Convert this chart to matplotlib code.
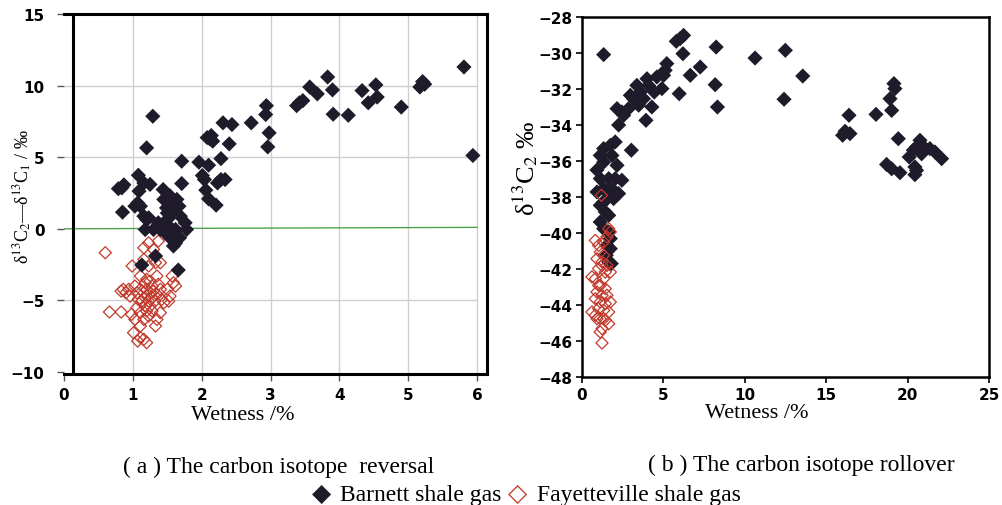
'''
plot.py

carbon isotope reversal / rollover, Barnett vs Fayetteville shale gas
'''

import matplotlib as mpl
mpl.use('Agg')
import matplotlib.pyplot as plt
import numpy as np

mpl.rcParams['font.family']      = 'serif'
mpl.rcParams['font.serif']       = ['Liberation Serif', 'DejaVu Serif']
mpl.rcParams['mathtext.fontset'] = 'stix'

# ---------------------------------------------------------------------------- #
# (a) wetness vs delta13C2 - delta13C1

barnett_a_x = [0.84, 0.87, 0.79, 0.85, 1.03, 1.07, 1.08, 1.09, 1.11, 1.16,
               1.20, 1.29, 1.25, 1.16, 1.20, 1.18, 1.23, 1.30, 1.37, 1.44,
               1.45, 1.47, 1.52, 1.54, 1.57, 1.59, 1.50, 1.54, 1.59, 1.62,
               1.67, 1.69, 1.68, 1.76, 1.78, 1.71, 1.71, 1.66, 1.33, 1.13,
               1.96, 2.01, 2.04, 2.06, 2.10, 2.21, 2.10, 2.08, 2.14, 2.16,
               2.12, 2.23, 2.28, 2.34, 2.28, 2.31, 2.44, 2.40, 2.72, 2.94,
               2.93, 2.98, 2.96, 3.38, 3.42, 3.47, 3.57, 3.68, 3.83, 3.90,
               3.91, 4.13, 4.33, 4.42, 4.53, 4.55, 4.90, 5.17, 5.21, 5.24,
               5.81, 5.94, 1.40, 1.50, 1.52, 1.57, 1.62, 1.64, 1.49]
barnett_a_y = [2.86, 3.07, 2.80, 1.16, 1.58, 1.80, 3.74, 2.63, 1.58, 3.20,
               5.65, 7.86, 3.10, 0.88, 0.65, -0.05, 0.77, -0.05, 0.42, 2.74,
               2.05, -0.28, 1.80, 2.30, 1.58, 1.10, 0.65, -0.63, -1.20, -0.05,
               1.58, 0.88, -0.63, 0.42, -0.05, 4.72, 3.16, -2.88, -1.90, -2.53,
               4.65, 3.72, 3.44, 2.70, 2.09, 1.65, 4.44, 6.37, 6.51, 6.12,
               6.28, 3.20, 3.44, 3.44, 4.90, 7.40, 7.28, 5.93, 7.40, 8.60,
               7.98, 6.70, 5.72, 8.60, 8.80, 8.95, 9.90, 9.42, 10.60, 9.70,
               8.00, 7.93, 9.65, 8.80, 10.05, 9.20, 8.50, 9.90, 10.28, 10.10,
               11.30, 5.12, -0.05, 1.10, 0.20, -0.30, -1.00, 2.05, 1.46]

fayette_a_x = [0.60, 0.66, 0.83, 0.83, 0.86, 0.90, 0.94, 0.96, 0.99, 0.98,
               1.01, 1.03, 1.07, 1.11, 1.16, 1.20, 1.16, 1.23, 1.30, 1.37,
               1.33, 1.40, 1.16, 1.23, 1.11, 1.20, 1.35, 1.37, 1.57, 1.59,
               1.62, 1.50, 1.54, 1.45, 1.52, 1.40, 1.35, 1.33, 1.28, 1.23,
               1.16, 1.11, 1.11, 1.16, 1.20, 1.25, 1.30, 1.18, 1.23, 1.28,
               1.13, 1.08, 1.18, 1.25, 1.32, 1.35, 1.06, 1.11, 1.20, 1.28,
               1.18, 1.25, 1.03, 1.06, 1.40, 1.42]
fayette_a_y = [-1.67, -5.81, -5.81, -4.35, -4.23, -4.47, -4.23, -4.70, -2.60, -5.98,
               -7.26, -6.33, -7.84, -7.60, -7.72, -7.95, -1.33, -0.98, -1.44, -0.86,
               -2.37, -2.37, -2.14, -2.60, -3.30, -3.53, -3.30, -3.88, -3.30, -3.77,
               -4.00, -4.23, -4.70, -5.16, -5.05, -5.86, -6.33, -6.79, -5.74, -6.09,
               -6.33, -6.79, -4.23, -4.47, -4.23, -4.47, -4.35, -4.81, -5.05, -4.81,
               -5.05, -4.93, -5.40, -5.40, -5.05, -4.58, -5.50, -5.86, -5.74, -4.00,
               -3.77, -3.65, -4.00, -4.47, -4.23, -4.93]

# ---------------------------------------------------------------------------- #
# (b) wetness vs delta13C2

barnett_b_x = [1.33, 5.79, 6.03, 6.24, 6.20, 5.97, 6.65, 7.26, 8.24, 8.18,
               8.32, 10.63, 12.49, 12.41, 13.56, 16.01, 16.16, 16.46, 16.40, 18.06,
               19.16, 19.22, 18.92, 19.02, 19.43, 18.71, 19.02, 19.53, 20.10, 20.35,
               20.76, 20.55, 20.86, 21.37, 21.68, 22.09, 20.45, 20.45, 20.55, 20.90,
               5.21, 5.11, 5.01, 4.91, 4.60, 4.44, 4.29, 3.99, 4.09, 3.78,
               3.58, 3.37, 3.48, 3.17, 3.93, 2.97, 2.86, 2.45, 2.15, 2.56,
               2.25, 3.03, 2.04, 1.74, 1.33, 1.12, 0.92, 1.33, 1.84, 2.15,
               2.45, 2.04, 1.64, 1.12, 0.92, 1.33, 1.74, 2.04, 2.25, 1.33,
               1.53, 1.94, 1.12, 1.43, 1.64, 1.12, 1.33, 1.64, 1.74, 1.53,
               1.74, 1.64, 1.80, 1.49]
barnett_b_y = [-30.09, -29.35, -29.20, -29.02, -30.04, -32.26, -31.24, -30.78, -29.67, -31.76,
               -33.00, -30.28, -29.85, -32.57, -31.28, -34.57, -34.35, -34.48, -33.46, -33.41,
               -31.70, -31.98, -32.54, -33.19, -34.76, -36.19, -36.43, -36.65, -35.78, -35.40,
               -34.85, -35.22, -35.60, -35.31, -35.50, -35.87, -36.33, -36.76, -36.52, -35.13,
               -30.59, -30.96, -31.24, -31.98, -31.33, -32.17, -33.00, -31.43, -31.80, -32.54,
               -32.17, -31.80, -32.90, -32.54, -33.74, -32.35, -33.09, -33.28, -33.09, -33.46,
               -34.00, -35.40, -34.94, -35.13, -35.31, -35.69, -36.50, -36.06, -35.69, -36.24,
               -37.07, -36.98, -36.98, -36.98, -37.72, -37.54, -37.54, -37.72, -37.81, -38.28,
               -38.09, -38.09, -38.46, -38.83, -39.02, -39.39, -39.76, -39.94, -40.31, -40.69,
               -40.87, -41.61, -41.70, -41.24]

fayette_b_x = [1.19, 0.61, 0.61, 0.82, 1.02, 1.64, 1.74, 1.53, 1.33, 1.12,
               0.92, 1.23, 1.53, 1.74, 1.02, 0.82, 1.33, 1.12, 1.43, 0.92,
               1.23, 1.53, 0.82, 1.12, 1.43, 1.74, 1.02, 1.33, 1.64, 0.82,
               1.12, 1.43, 1.64, 1.23, 1.12, 1.23, 1.33, 0.92, 1.02, 1.33,
               1.43, 1.23]
fayette_b_y = [-37.91, -42.44, -44.39, -40.41, -40.69, -39.76, -39.94, -40.22, -40.50, -41.06,
               -41.43, -41.61, -41.80, -42.17, -41.98, -42.54, -42.54, -42.91, -43.09, -43.28,
               -43.46, -43.46, -43.65, -43.83, -43.93, -43.83, -44.20, -44.30, -44.39, -44.57,
               -44.76, -44.85, -45.04, -45.31, -45.50, -46.11, -44.76, -44.76, -42.91, -41.24,
               -42.17, -41.80]

# ---------------------------------------------------------------------------- #

black = '#1f1b2b'
red = '#c23a2c'
grid_color = '#cfcfcf'
tick_font = dict(family=['Liberation Sans Narrow', 'DejaVu Sans'],
                 weight='bold', size=11)

W, H = 1002., 506.
fig = plt.figure(figsize=(W/100, H/100), dpi=100)

def px_axes(x0, x1, y0, y1):
    return fig.add_axes([x0/W, 1 - y1/H, (x1 - x0)/W, (y1 - y0)/H])

# --- panel (a)
ax1 = px_axes(64, 487, 15, 375)
ax1.set_xlim(0, 6.145)
ax1.set_ylim(-10.14, 15)
for x in range(1, 7):
    ax1.axvline(x, color=grid_color, lw=1, zorder=0)
for y in (-5, 5, 10):
    ax1.hlines(y, 0, 6, color=grid_color, lw=1, zorder=0)
ax1.plot([0, 6], [0, 0.1], color='#4fa34a', lw=1, zorder=1)
ax1.axvline(0.13, color='black', lw=2.2, zorder=5)
ax1.spines['left'].set_visible(False)
for s in ('top', 'right', 'bottom'):
    ax1.spines[s].set_linewidth(2.2)
ax1.scatter(fayette_a_x, fayette_a_y, marker='D', s=38, facecolors='none',
            edgecolors=red, linewidths=0.9, zorder=3)
ax1.scatter(barnett_a_x, barnett_a_y, marker='D', s=60, color=black,
            edgecolors='none', zorder=4)
ax1.set_xticks(range(0, 7))
ax1.set_yticks(range(-10, 16, 5))
ax1.tick_params(direction='out', length=5, width=1, color='#555555')
ax1.tick_params(axis='x', pad=4)
ax1.tick_params(axis='y', pad=9)
for lab in ax1.get_xticklabels() + ax1.get_yticklabels():
    lab.set(**tick_font)

# --- panel (b)
ax2 = px_axes(582, 989, 18, 378)
ax2.set_xlim(0, 25)
ax2.set_ylim(-48, -28)
for s in ax2.spines.values():
    s.set_linewidth(1.8)
ax2.scatter(barnett_b_x, barnett_b_y, marker='D', s=60, color=black,
            edgecolors='none', zorder=3)
ax2.scatter(fayette_b_x, fayette_b_y, marker='D', s=38, facecolors='none',
            edgecolors=red, linewidths=0.9, zorder=4)
ax2.set_xticks(range(0, 26, 5))
ax2.set_yticks(range(-48, -27, 2))
ax2.tick_params(direction='out', length=4, width=1.2, pad=3)
for lab in ax2.get_xticklabels() + ax2.get_yticklabels():
    lab.set(**tick_font)

# --- labels
fig.text(23/W, 1 - 197/H, 'δ$^{13}$C$_2$—δ$^{13}$C$_1$ / ‰',
         rotation=90, ha='center', va='center', fontsize=13)
fig.text(525/W, 1 - 168/H, 'δ$^{13}$C$_2$ ‰',
         rotation=90, ha='center', va='center', fontsize=19)
fig.text(243/W, 1 - 416/H, 'Wetness /%', ha='center', va='center', fontsize=16)
fig.text(757/W, 1 - 414/H, 'Wetness /%', ha='center', va='center', fontsize=16)
fig.text(279/W, 1 - 467/H, '( a ) The carbon isotope  reversal',
         ha='center', va='center', fontsize=17)
fig.text(801/W, 1 - 465/H, '( b ) The carbon isotope rollover',
         ha='center', va='center', fontsize=17)

# --- legend
fig.text(322/W, 1 - 494/H, '◆', color=black, ha='center', va='center',
         fontsize=18, family='DejaVu Sans')
fig.text(340/W, 1 - 496/H, 'Barnett shale gas', ha='left', va='center',
         fontsize=17)
fig.text(518/W, 1 - 494/H, '◇', color=red, ha='center', va='center',
         fontsize=18, family='DejaVu Sans')
fig.text(537/W, 1 - 496/H, 'Fayetteville shale gas', ha='left', va='center',
         fontsize=17)

plt.savefig('out.png', dpi=100)
